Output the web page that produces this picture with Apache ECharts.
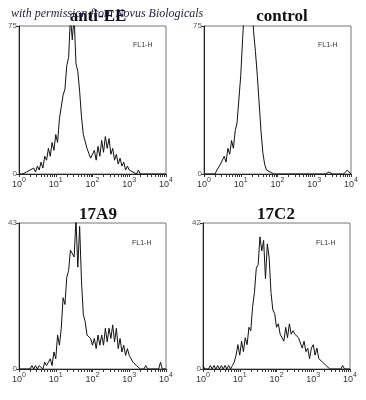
<!DOCTYPE html>
<html>
<head>
<meta charset="utf-8">
<script src="https://cdn.jsdelivr.net/npm/echarts@6/dist/echarts.min.js"></script>
<style>
html,body{margin:0;padding:0;background:#fff;}
#chart{width:366px;height:400px;}
</style>
</head>
<body>
<div id="chart"></div>
<script>
// channel bins are 0.05 decade wide, from 10^0 to 10^4
const binStep = 0.05;
const titles = ['anti-EE', 'control', '17A9', '17C2'];
const yMax = [75, 75, 43, 42];
const tickMult = [1, 2, 3, 4, 5, 6, 7, 8, 9];

// counts per bin
const antiEE = [0,1,0,1,1,0,2,1,3,1, 4,2,6,3,9,7,13,9,16,12, 20,16,28,29,40,43,55,59,80,68,
  80,56,52,42,29,20,19,13,13,8, 9,12,7,14,9,17,11,19,13,18, 10,13,7,10,5,8,4,6,2,4,
  2,3,1,2,0,2,0,1,0,0, 0,0,0,0,0,0,0,0,0,0, 0];
const control = [0,1,0,1,0,1,0,2,3,5, 4,9,6,13,10,17,13,22,26,38, 50,68,85,100,115,108,90,72,62,50,
  36,22,11,5,2,1,1,0,0,0, 0,0,0,0,0,0,0,0,0,0, 0,0,0,0,0,0,0,0,0,0,
  0,0,0,0,0,0,0,0,1,0, 0,0,0,0,0,0,0,1,2,1, 0];
const c17A9 = [0,0,0,0,0,0,0,1,0,1, 0,1,1,0,2,1,2,3,1,5, 3,10,7,12,21,19,27,29,35,35,
  33,44,30,42,26,16,14,10,10,9, 7,9,6,10,7,10,7,12,8,12, 9,13,8,12,6,9,5,7,4,6,
  4,3,2,2,1,1,0,0,0,1, 0,0,0,0,0,0,0,2,0,0, 0];
const c17C2 = [1,0,0,0,1,0,1,0,1,0, 1,0,1,0,1,0,1,2,4,7, 4,8,5,9,7,12,11,18,22,29,
  30,38,34,37,26,36,32,22,17,16, 12,13,10,10,8,12,9,13,10,11, 10,10,9,9,6,8,5,6,3,6,
  7,4,6,3,3,2,2,1,1,0, 0,0,0,0,0,0,1,0,0,0, 0];
const panels = [antiEE, control, c17A9, c17C2];

const grids = [
  {left: 19, top: 26, width: 147, height: 148},
  {left: 204, top: 26, width: 147, height: 148},
  {left: 19, top: 223, width: 147, height: 146},
  {left: 203, top: 223, width: 147, height: 146}
];
const titlePos = [[93, 3], [277, 3], [93, 201], [271, 201]];
const fl1Pos = [[133, 42], [318, 42], [132, 240], [316, 240]];

// minor ticks at 1..9 x 10^k, in decade units
let minorTicks = [];
for (let k = 0; k < 4; k++) {
  tickMult.forEach(m => minorTicks.push(k + Math.log10(m)));
}
minorTicks.push(4);

const chart = echarts.init(document.getElementById('chart'));

let options = {
  backgroundColor: '#fff',
  animation: false,
  title: titles.map((t, i) => ({
    text: t,
    left: titlePos[i][0],
    top: titlePos[i][1],
    textAlign: 'center',
    textStyle: {fontFamily: 'Liberation Serif', fontWeight: 'bold', fontSize: 17, color: '#111'}
  })),
  grid: grids.map(g => Object.assign({show: true, borderColor: '#777', borderWidth: 1}, g)),
  xAxis: grids.map((g, i) => ({
    gridIndex: i,
    type: 'value',
    min: 0,
    max: 4,
    interval: 1,
    axisLine: {show: true, lineStyle: {color: '#222', width: 1}},
    axisTick: {show: true, customValues: minorTicks, length: 3, lineStyle: {color: '#333'}},
    axisLabel: {
      margin: 3,
      showMinLabel: true,
      showMaxLabel: true,
      formatter: v => '{b|10}{s|' + v + '}',
      rich: {
        b: {fontFamily: 'Liberation Sans', fontSize: 9, color: '#333', verticalAlign: 'bottom', lineHeight: 12},
        s: {fontFamily: 'Liberation Sans', fontSize: 7, color: '#333', verticalAlign: 'top', lineHeight: 8}
      }
    },
    splitLine: {show: false}
  })),
  yAxis: grids.map((g, i) => ({
    gridIndex: i,
    type: 'value',
    min: 0,
    max: yMax[i],
    interval: yMax[i],
    axisLine: {show: true, lineStyle: {color: '#222', width: 1}},
    axisTick: {show: true, length: 3, lineStyle: {color: '#333'}},
    axisLabel: {fontFamily: 'Liberation Sans', fontSize: 8, color: '#555', margin: 2},
    splitLine: {show: false}
  })),
  graphic: fl1Pos.map(p => ({
    type: 'text', left: p[0], top: p[1],
    style: {text: 'FL1-H', font: '7px "Liberation Sans"', fill: '#333'}
  })).concat([{
    type: 'text', left: 11, top: 8, z: 100,
    style: {text: 'with permission from Novus Biologicals', font: 'italic 12px "Liberation Serif"', fill: '#1c1c3c'}
  }]),
  series: panels.map((counts, i) => ({
    type: 'line',
    xAxisIndex: i,
    yAxisIndex: i,
    data: counts.map((c, j) => [j * binStep, c]),
    showSymbol: false,
    clip: true,
    lineStyle: {color: '#111', width: 1},
    itemStyle: {color: '#111'}
  }))
};
chart.setOption(options);
</script>
</body>
</html>
